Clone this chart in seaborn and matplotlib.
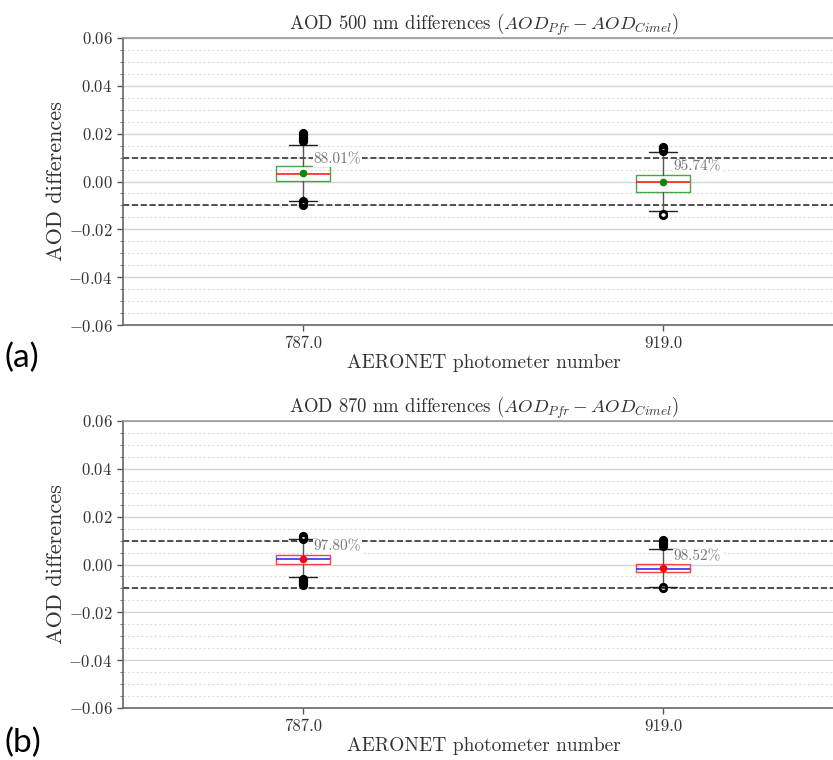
import matplotlib
matplotlib.use("Agg")
import matplotlib.pyplot as plt
import seaborn as sns
from matplotlib.ticker import MultipleLocator

# ---------------- data ----------------
photometers = ["787.0", "919.0"]

# AOD 500 nm
q1_500 = [0.0002, -0.0042]
med_500 = [0.0032, -0.0003]
q3_500 = [0.0063, 0.0028]
mean_500 = [0.0036, -0.0004]
whislo_500 = [-0.0081, -0.0123]
whishi_500 = [0.0154, 0.0123]
fliers_500 = [
    [0.0168, 0.0173, 0.0178, 0.0183, 0.0188, 0.0193, 0.0198, 0.0202,
     -0.0083, -0.0087, -0.0091, -0.0095, -0.0100],
    [0.0126, 0.0130, 0.0134, 0.0138, 0.0142, 0.0146, -0.0136, -0.0140],
]
pct_500 = ["88.01%", "95.74%"]
pct_y_500 = [0.0094, 0.0063]

# AOD 870 nm
q1_870 = [0.0002, -0.0030]
med_870 = [0.0022, -0.0017]
q3_870 = [0.0040, 0.0001]
mean_870 = [0.0022, -0.0016]
whislo_870 = [-0.0054, -0.0093]
whishi_870 = [0.0107, 0.0065]
fliers_870 = [
    [0.0106, 0.0109, 0.0112, 0.0115, 0.0118,
     -0.0059, -0.0063, -0.0067, -0.0071, -0.0075, -0.0079, -0.0083, -0.0086],
    [0.0079, 0.0083, 0.0087, 0.0091, 0.0095, 0.0099, 0.0102, -0.0095, -0.0098],
]
pct_870 = ["97.80%", "98.52%"]
pct_y_870 = [0.0074, 0.0033]

# ---------------- style ----------------
sns.set_theme(style="ticks")
plt.rcParams["font.family"] = "serif"
plt.rcParams["font.serif"] = ["cmr10", "DejaVu Serif"]
plt.rcParams["mathtext.fontset"] = "cm"
plt.rcParams["axes.formatter.use_mathtext"] = True
plt.rcParams["axes.unicode_minus"] = True

W, H = 833, 760
fig = plt.figure(figsize=(W / 100, H / 100), dpi=100)

ax_left = 123 / W
ax_w = (W - 123) / W
ax_h = 287 / H
ax_top = fig.add_axes([ax_left, (H - 325) / H, ax_w, ax_h])
ax_bot = fig.add_axes([ax_left, (H - 708) / H, ax_w, ax_h])

# the original axes continue past the right border of the picture
CENTER = (484 - 123) / (W - 123)


def build_stats(q1, med, q3, mean, wlo, whi, fl):
    stats = []
    for i in range(len(q1)):
        stats.append(dict(q1=q1[i], med=med[i], q3=q3[i], mean=mean[i],
                          whislo=wlo[i], whishi=whi[i], fliers=fl[i],
                          label=photometers[i]))
    return stats


def draw_panel(ax, stats, box_color, median_color, mean_color, pcts, pct_y, title):
    ax.bxp(stats, positions=[0, 1], widths=0.15, capwidths=0.078,
           showmeans=True, patch_artist=False,
           boxprops=dict(color=box_color, linewidth=1.0),
           medianprops=dict(color=median_color, linewidth=1.2),
           whiskerprops=dict(color="#555555", linewidth=1.0),
           capprops=dict(color="#222222", linewidth=1.0),
           meanprops=dict(marker="o", markerfacecolor=mean_color,
                          markeredgecolor=mean_color, markersize=4.5),
           flierprops=dict(marker="o", markerfacecolor="none",
                           markeredgecolor="black", markersize=5,
                           markeredgewidth=1.6))
    ax.set_xlim(-0.5, -0.5 + (W - 123) / 360)
    ax.set_ylim(-0.06, 0.06)
    ax.set_xticks([0, 1])
    ax.set_xticklabels(photometers)
    ax.yaxis.set_major_locator(MultipleLocator(0.02))
    ax.yaxis.set_minor_locator(MultipleLocator(0.005))
    ax.grid(True, axis="y", which="major", color="#d4d4d4", linewidth=1.0)
    ax.grid(True, axis="y", which="minor", color="#dcdcdc", linewidth=0.8,
            linestyle=(0, (2, 2)))
    ax.set_axisbelow(True)
    for yv in (0.01, -0.01):
        ax.axhline(yv, color="#333333", linestyle="--", linewidth=1.2, zorder=1)
    for i, (txt, yy) in enumerate(zip(pcts, pct_y)):
        ax.text(i + 0.03, yy, txt, color="#777777", fontsize=11, va="center",
                ha="left", zorder=5,
                bbox=dict(facecolor="white", edgecolor="none", pad=0.5))
    ax.tick_params(axis="both", which="major", labelsize=12, length=4,
                   width=1.0, color="#555555", labelcolor="#333333")
    ax.tick_params(axis="y", which="minor", length=2.5, width=0.8,
                   color="#777777")
    sns.despine(ax=ax, top=False, right=True)
    for s in ("left", "bottom"):
        ax.spines[s].set_color("#666666")
        ax.spines[s].set_linewidth(1.2)
    ax.spines["top"].set_color("#999999")
    ax.spines["top"].set_linewidth(1.2)
    ax.set_title(title, fontsize=13.5, color="#333333", pad=5, x=CENTER)
    ax.set_ylabel("AOD differences", fontsize=16, color="#333333", labelpad=2)
    ax.set_xlabel("AERONET photometer number", fontsize=14, color="#333333")
    ax.xaxis.set_label_coords(CENTER, -0.1)


draw_panel(ax_top,
           build_stats(q1_500, med_500, q3_500, mean_500, whislo_500,
                       whishi_500, fliers_500),
           "#45a845", "#ff2020", "#0a8a0a", pct_500, pct_y_500,
           r"AOD 500 nm differences ($AOD_{Pfr} - AOD_{Cimel}$)")
draw_panel(ax_bot,
           build_stats(q1_870, med_870, q3_870, mean_870, whislo_870,
                       whishi_870, fliers_870),
           "#ff4040", "#3030ff", "#ff0000", pct_870, pct_y_870,
           r"AOD 870 nm differences ($AOD_{Pfr} - AOD_{Cimel}$)")

fig.text(4 / W, 1 - 358 / H, "(a)", fontsize=24, family="Lato",
         color="black", va="center", ha="left")
fig.text(4 / W, 1 - 743 / H, "(b)", fontsize=24, family="Lato",
         color="black", va="center", ha="left")

fig.savefig("out.png", dpi=100)
